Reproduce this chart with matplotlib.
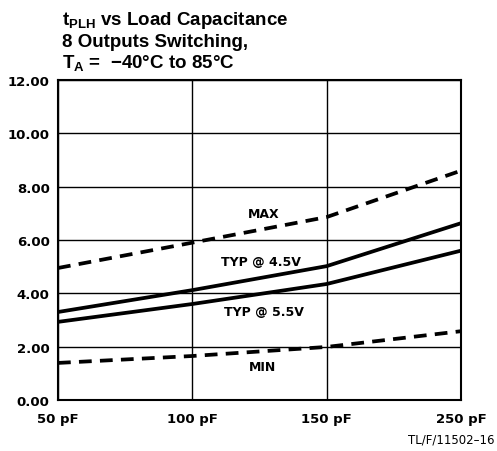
import matplotlib
matplotlib.use("Agg")
import matplotlib.pyplot as plt

plt.rcParams['mathtext.fontset'] = 'custom'
plt.rcParams['mathtext.rm'] = 'Liberation Sans:bold'
plt.rcParams['mathtext.it'] = 'Liberation Sans:bold'
plt.rcParams['mathtext.bf'] = 'Liberation Sans:bold'

categories = ["50 pF", "100 pF", "150 pF", "250 pF"]
y_ticks = [0, 2, 4, 6, 8, 10, 12]
y_tick_labels = ["0.00", "2.00", "4.00", "6.00", "8.00", "10.00", "12.00"]
max_vals = [4.95, 5.9, 6.86, 8.6]
typ45_vals = [3.3, 4.12, 5.02, 6.63]
typ55_vals = [2.93, 3.6, 4.35, 5.6]
min_vals = [1.39, 1.65, 1.99, 2.58]

W, H = 497, 452
fig = plt.figure(figsize=(W/100, H/100), dpi=100)
ax = fig.add_axes([58/W, 1-401/H, (461-58)/W, (401-81)/H])
x = list(range(len(categories)))

ax.plot(x, max_vals, color='black', lw=2.7, ls=(0, (3.4, 2.2)), dash_capstyle='butt')
ax.plot(x, typ45_vals, color='black', lw=2.7)
ax.plot(x, typ55_vals, color='black', lw=2.7)
ax.plot(x, min_vals, color='black', lw=2.7, ls=(0, (3.4, 2.2)), dash_capstyle='butt')

ax.set_xlim(0, 3)
ax.set_ylim(0, 12)
ax.set_xticks(x)
ax.set_xticklabels(categories)
ax.set_yticks(y_ticks)
ax.set_yticklabels(y_tick_labels)
ax.grid(True, color='black', lw=1.0)
ax.set_axisbelow(True)
ax.tick_params(axis='y', length=0, pad=6)
ax.tick_params(axis='x', length=0, pad=9)
for lab in ax.get_xticklabels() + ax.get_yticklabels():
    lab.set_fontfamily('DejaVu Sans')
    lab.set_fontweight('bold')
    lab.set_fontsize(9.5)
for s in ax.spines.values():
    s.set_linewidth(1.5)

lab_kw = dict(fontfamily='DejaVu Sans', fontweight='bold', fontsize=9, ha='center', va='center')
ax.text(1.53, 7.0, "MAX", **lab_kw)
ax.text(1.51, 5.2, "TYP @ 4.5V", **lab_kw)
ax.text(1.53, 3.3, "TYP @ 5.5V", **lab_kw)
ax.text(1.52, 1.24, "MIN", **lab_kw)

tkw = dict(fontfamily='Liberation Sans', fontweight='bold', fontsize=13.5, ha='left', va='baseline')
fig.text(62/W, 1-25/H, r"t$_{\mathrm{PLH}}$ vs Load Capacitance", **tkw)
fig.text(62/W, 1-47/H, "8 Outputs Switching,", **tkw)
fig.text(62/W, 1-68/H, r"T$_{\mathrm{A}}$ =  −40°C to 85°C", **tkw)

fig.text(495/W, 1-444/H, "TL/F/11502–16", fontfamily='DejaVu Sans', fontsize=8.5, ha='right', va='baseline')

fig.savefig("out.png", dpi=100)
